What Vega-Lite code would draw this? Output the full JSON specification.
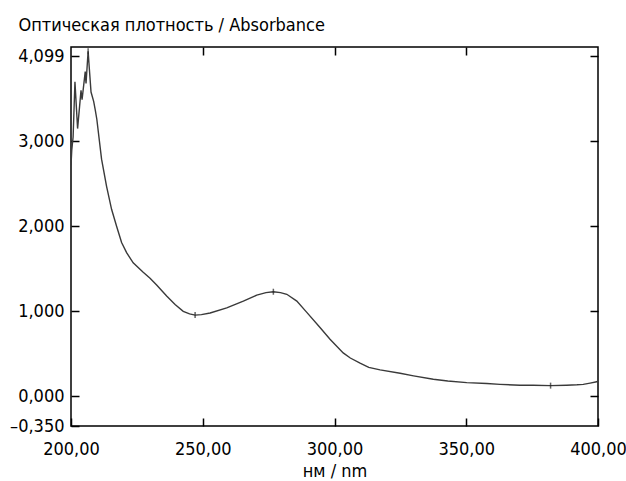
{
  "$schema": "https://vega.github.io/schema/vega-lite/v6.json",
  "autosize": "none",
  "width": 527,
  "height": 379,
  "padding": {"left": 71, "top": 47, "right": 28, "bottom": 55},
  "background": "white",
  "config": {
    "view": {"stroke": "black", "strokeWidth": 1.5},
    "locale": {"number": {"decimal": ",", "thousands": " ", "grouping": [3], "currency": ["", ""], "minus": "–"}},
    "axis": {
      "labelFont": "Liberation Sans Narrow, DejaVu Sans Condensed, Roboto Condensed, Roboto",
      "titleFont": "Liberation Sans Narrow, DejaVu Sans Condensed, Roboto Condensed, Roboto",
      "labelFontSize": 18,
      "titleFontSize": 18,
      "titleFontWeight": "normal",
      "labelColor": "black",
      "titleColor": "black",
      "tickColor": "black",
      "domainColor": "black",
      "grid": false,
      "tickSize": -8,
      "tickWidth": 1.5,
      "domain": false
    }
  },
  "datasets": {
    "spectrum": [
      {"nm": 200.0, "abs": 2.72},
      {"nm": 200.3, "abs": 2.9},
      {"nm": 200.8, "abs": 3.05},
      {"nm": 201.5, "abs": 3.70},
      {"nm": 202.5, "abs": 3.15},
      {"nm": 203.8, "abs": 3.60},
      {"nm": 204.2, "abs": 3.49},
      {"nm": 205.4, "abs": 3.82},
      {"nm": 205.7, "abs": 3.68},
      {"nm": 206.5, "abs": 4.06},
      {"nm": 206.9, "abs": 3.88},
      {"nm": 207.6, "abs": 3.58},
      {"nm": 208.6, "abs": 3.47},
      {"nm": 209.2, "abs": 3.37},
      {"nm": 209.8, "abs": 3.26},
      {"nm": 211.6, "abs": 2.79},
      {"nm": 213.5, "abs": 2.47},
      {"nm": 215.4, "abs": 2.20},
      {"nm": 217.3, "abs": 2.00},
      {"nm": 219.2, "abs": 1.81},
      {"nm": 221.1, "abs": 1.69},
      {"nm": 223.6, "abs": 1.57},
      {"nm": 227.4, "abs": 1.46},
      {"nm": 230.0, "abs": 1.39},
      {"nm": 232.5, "abs": 1.31},
      {"nm": 236.3, "abs": 1.18},
      {"nm": 239.5, "abs": 1.08},
      {"nm": 242.6, "abs": 1.00},
      {"nm": 245.0, "abs": 0.97},
      {"nm": 247.1, "abs": 0.955},
      {"nm": 249.5, "abs": 0.96},
      {"nm": 252.8, "abs": 0.98},
      {"nm": 259.1, "abs": 1.04},
      {"nm": 265.4, "abs": 1.12},
      {"nm": 270.5, "abs": 1.19},
      {"nm": 274.0, "abs": 1.22},
      {"nm": 276.8, "abs": 1.23},
      {"nm": 279.5, "abs": 1.22},
      {"nm": 281.9, "abs": 1.20},
      {"nm": 285.7, "abs": 1.12},
      {"nm": 289.4, "abs": 0.99},
      {"nm": 294.5, "abs": 0.81},
      {"nm": 298.3, "abs": 0.67},
      {"nm": 303.3, "abs": 0.51},
      {"nm": 306.0, "abs": 0.45},
      {"nm": 309.7, "abs": 0.39},
      {"nm": 313.0, "abs": 0.34},
      {"nm": 317.3, "abs": 0.31},
      {"nm": 324.9, "abs": 0.27},
      {"nm": 330.0, "abs": 0.24},
      {"nm": 337.5, "abs": 0.20},
      {"nm": 343.0, "abs": 0.18},
      {"nm": 350.2, "abs": 0.16},
      {"nm": 357.8, "abs": 0.15},
      {"nm": 362.8, "abs": 0.14},
      {"nm": 370.4, "abs": 0.13},
      {"nm": 375.4, "abs": 0.13},
      {"nm": 382.0, "abs": 0.125},
      {"nm": 388.1, "abs": 0.13},
      {"nm": 392.0, "abs": 0.135},
      {"nm": 394.4, "abs": 0.14},
      {"nm": 397.0, "abs": 0.155},
      {"nm": 399.5, "abs": 0.17},
      {"nm": 400.0, "abs": 0.18}
    ],
    "peaks": [
      {"nm": 206.5, "abs": 4.06},
      {"nm": 247.1, "abs": 0.955},
      {"nm": 276.8, "abs": 1.23},
      {"nm": 382.0, "abs": 0.125}
    ]
  },
  "resolve": {"axis": {"x": "independent", "y": "independent"}},
  "layer": [
    {
      "data": {"name": "spectrum"},
      "mark": {"type": "line", "color": "#3a3a3a", "strokeWidth": 1.4, "clip": true},
      "encoding": {
        "x": {
          "field": "nm", "type": "quantitative",
          "scale": {"domain": [200, 400], "nice": false, "zero": false},
          "axis": {
            "orient": "bottom", "values": [200, 250, 300, 350, 400], "format": ".2f",
            "title": "нм / nm", "labelPadding": 22, "titlePadding": 4,
            "labelFlush": false
          }
        },
        "y": {
          "field": "abs", "type": "quantitative",
          "scale": {"domain": [-0.35, 4.11], "nice": false, "zero": false},
          "axis": {
            "orient": "left", "values": [-0.35, 0, 1, 2, 3, 4],
            "labelExpr": "datum.value == 4 ? '4,099' : datum.value < -0.3 ? '–0,350' : format(datum.value, '.3f')",
            "labelPadding": 15, "labelFlush": false,
            "title": "Оптическая плотность / Absorbance",
            "titleAngle": 0, "titleAlign": "left", "titleBaseline": "alphabetic",
            "titleX": -53, "titleY": -17
          }
        }
      }
    },
    {
      "data": {"name": "spectrum"},
      "mark": {"type": "line", "opacity": 0},
      "encoding": {
        "x": {
          "field": "nm", "type": "quantitative",
          "axis": {"orient": "top", "values": [250, 300, 350], "labels": false, "title": null}
        },
        "y": {
          "field": "abs", "type": "quantitative",
          "axis": {"orient": "right", "values": [0, 1, 2, 3, 4], "labels": false, "title": null}
        }
      }
    },
    {
      "data": {"name": "peaks"},
      "mark": {"type": "tick", "orient": "vertical", "color": "#222", "size": 6, "thickness": 1.5},
      "encoding": {
        "x": {"field": "nm", "type": "quantitative", "axis": null},
        "y": {"field": "abs", "type": "quantitative", "axis": null}
      }
    }
  ]
}
